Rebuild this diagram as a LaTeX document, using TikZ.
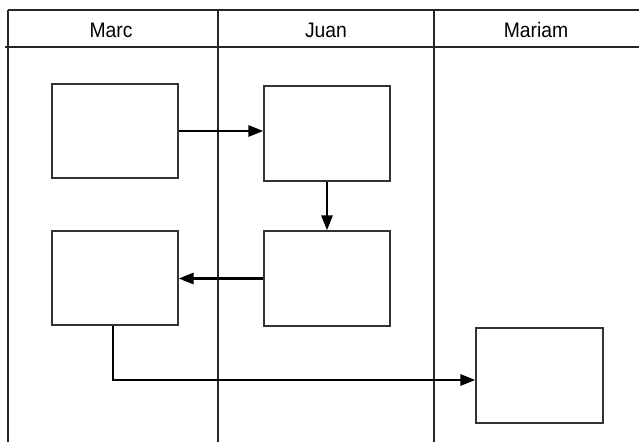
\documentclass[tikz,border=0pt]{standalone}
\usepackage{fontspec}
\setmainfont{Liberation Sans}
\usetikzlibrary{arrows.meta}
\begin{document}
\begin{tikzpicture}[x=1pt,y=-1pt,
  lane/.style={draw=black!85, line width=1.2pt},
  stepbox/.style={draw=black!80, line width=1.2pt, fill=white},
  flow/.style={draw=black, line width=2.8pt, -{Triangle[length=15pt,width=11pt]}},
  lbl/.style={font=\fontsize{21}{24}\selectfont, inner sep=0pt}]
\useasboundingbox (0,0) rectangle (639,442);
% lanes
\draw[lane] (8,10) -- (639,10);
\draw[lane] (5,47) -- (639,47);
\draw[lane] (8,10) -- (8,442);
\draw[lane] (218,10) -- (218,442);
\draw[lane] (434,10) -- (434,442);
\node[lbl] (h1) at (111,30) {\scalebox{0.92}[1]{Marc}};
\node[lbl] (h2) at (326,30) {\scalebox{0.92}[1]{Juan}};
\node[lbl] (h3) at (536,30) {\scalebox{0.92}[1]{Mariam}};
% boxes
\node[stepbox, inner sep=0pt, minimum width=126pt, minimum height=94pt] (A) at (115,131) {};
\node[stepbox, inner sep=0pt, minimum width=126pt, minimum height=95pt] (B) at (327,133.5) {};
\node[stepbox, inner sep=0pt, minimum width=126pt, minimum height=95pt] (C) at (327,278.5) {};
\node[stepbox, inner sep=0pt, minimum width=126pt, minimum height=94pt] (D) at (115,278) {};
\node[stepbox, inner sep=0pt, minimum width=127pt, minimum height=95pt] (E) at (539.5,375.5) {};
% connectors
\draw[flow] (A.east) -- (A.east -| B.west);
\draw[flow] (B.south) -- (C.north);
\draw[flow] (C.west) -- (C.west -| D.east);
\coordinate (k) at (113,380);
\draw[flow] (D.south -| k) -- (k) -- (k -| E.west);
\end{tikzpicture}
\end{document}
